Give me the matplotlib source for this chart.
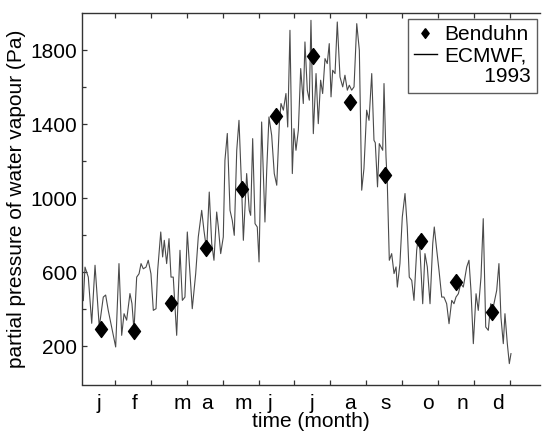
import numpy as np
import matplotlib
matplotlib.use('Agg')
import matplotlib.pyplot as plt

# Benduhn monthly values (day of year, Pa)
benduhn_day = [18.8, 46.5, 77.6, 107.3, 138.0, 167.0, 198.5, 229.6, 259.2, 289.7, 319.7, 350.2]
benduhn_pa = [290, 280, 435, 730, 1050, 1445, 1771, 1519, 1127, 770, 546, 384]

# ECMWF 1993 series (day of year, Pa)
ecmwf_day = [3.6, 5.0, 7.8, 10.7, 13.5, 17.1, 20.5, 22.5, 24.7, 27.6, 31.0, 33.8, 36.1, 38.1,
             40.3, 43.1, 44.8, 46.5, 48.8, 50.8, 52.5, 54.4, 56.7, 58.6, 60.9, 62.9, 65.2, 66.6,
             69.2, 70.8, 72.2, 74.2, 76.2, 77.9, 79.8, 82.7, 85.5, 87.5, 89.7, 91.7, 94.0, 95.9,
             98.8, 101.0, 103.9, 105.8, 108.1, 110.3, 112.4, 114.3, 116.6, 118.0, 120.0, 122.2,
             123.6, 125.6, 127.9, 129.8, 131.5, 133.6, 135.5, 137.8, 139.2, 142.0, 144.2, 145.4,
             147.1, 149.1, 151.0, 152.5, 154.7, 157.5, 159.0, 160.9, 163.2, 165.4, 167.5, 169.7,
             171.1, 173.1, 175.3, 176.8, 178.7, 180.7, 182.1, 183.8, 185.8, 187.8, 190.0, 191.4,
             193.4, 195.1, 196.5, 198.5, 200.8, 202.7, 204.7, 206.4, 208.4, 210.3, 212.0, 213.5,
             214.9, 216.9, 218.8, 221.1, 223.4, 225.3, 227.3, 229.0, 231.0, 233.0, 235.3, 237.5,
             239.5, 241.4, 243.7, 245.7, 248.0, 249.9, 251.0, 252.9, 254.4, 257.3, 258.4, 260.1,
             261.2, 262.9, 264.9, 266.9, 268.6, 269.7, 271.9, 273.9, 276.2, 278.1, 279.8, 281.9,
             283.8, 286.1, 287.5, 288.9, 291.2, 293.1, 295.1, 297.4, 299.7, 301.0, 303.1, 305.0,
             307.3, 309.2, 311.5, 313.5, 315.8, 317.7, 319.4, 321.4, 323.4, 325.6, 328.5, 330.4,
             332.1, 334.1, 336.4, 338.3, 340.6, 342.5, 344.6, 346.8, 348.8, 351.0, 353.9, 355.8,
             357.5, 359.5, 360.9, 362.9, 364.6, 366.0]
ecmwf_pa = [446, 627, 573, 323, 637, 303, 465, 476, 393, 303, 195, 646, 258, 375,
            340, 484, 430, 285, 573, 591, 646, 618, 627, 664, 591, 393, 402, 610,
            817, 682, 772, 646, 781, 573, 573, 258, 718, 447, 465, 817, 591, 402,
            591, 790, 934, 826, 718, 1033, 754, 664, 925, 844, 700, 790,
            1205, 1350, 934, 880, 799, 1259, 1421, 1043, 772, 1133, 934, 907,
            1322, 862, 844, 655, 1412, 871, 1151, 1439, 1340, 1133, 1070, 1403,
            1512, 1476, 1566, 1385, 1908, 1133, 1376, 1259, 1367, 1701, 1512, 1845,
            1584, 1530, 1962, 1349, 1674, 1403, 1638, 1566, 1755, 1728, 1836, 1548,
            1692, 1674, 1953, 1656, 1602, 1665, 1584, 1611, 1584, 1602, 1944, 1800,
            1043, 1160, 1476, 1421, 1674, 1313, 1300, 1061, 1295, 1259, 1620, 1223,
            1079, 664, 700, 592, 628, 519, 646, 898, 1025, 844, 573, 555,
            447, 718, 790, 718, 429, 700, 628, 429, 754, 844, 718, 610,
            465, 465, 429, 321, 447, 429, 465, 483, 537, 519, 628, 664,
            501, 213, 483, 393, 573, 889, 303, 285, 429, 411, 501, 646,
            357, 213, 375, 213, 105, 159]

month_ticks = [30.4, 60.8, 91.3, 121.7, 152.1, 182.5, 212.9, 243.3, 273.8, 304.2, 334.6, 365.0]
month_label_pos = [16.9, 46.7, 87.5, 108.0, 139.5, 161.8, 197.2, 229.6, 259.7, 295.9, 325.0, 354.7]
month_labels = ['j', 'f', 'm', 'a', 'm', 'j', 'j', 'a', 's', 'o', 'n', 'd']

plt.rcParams['font.family'] = ['Liberation Sans', 'DejaVu Sans']
fs = 15

fig = plt.figure(figsize=(5.45, 4.33), dpi=100)
ax = fig.add_axes([82.4 / 545, 1 - 384.5 / 433, (540 - 82.4) / 545, (384.5 - 13.3) / 433])

diamond = [(0, 1), (0.75, 0), (0, -1), (-0.75, 0), (0, 1)]
ax.plot(ecmwf_day, ecmwf_pa, color='#4a4a4a', lw=0.8)
ax.plot(benduhn_day, benduhn_pa, linestyle='none', marker=diamond, ms=11.5,
        color='black', zorder=3)

ax.set_xlim(2.8, 390.6)
ax.set_ylim(-8, 2000)

ax.set_xticks(month_ticks)
ax.set_xticklabels([])
ax.set_xticks(month_label_pos, minor=True)
ax.set_xticklabels(month_labels, minor=True, fontsize=fs)
ax.tick_params(axis='x', which='major', direction='in', length=3.3, width=0.9,
               top=True, color='#333333')
ax.tick_params(axis='x', which='minor', length=0, pad=7)

ax.set_yticks([200, 600, 1000, 1400, 1800])
ax.set_yticks([400, 800, 1200, 1600], minor=True)
ax.tick_params(axis='y', which='major', direction='in', length=3.4, width=0.9,
               labelsize=fs, pad=4, color='#333333')
ax.tick_params(axis='y', which='minor', direction='in', length=2.6, width=0.9,
               color='#333333')

ax.spines['right'].set_visible(False)
for s in ['left', 'bottom', 'top']:
    ax.spines[s].set_color('#333333')
    ax.spines[s].set_linewidth(1.0)

ax.set_xlabel('time (month)', fontsize=fs, labelpad=-1)
ax.set_ylabel('partial pressure of water vapour (Pa)', fontsize=fs, labelpad=3)

h1 = plt.Line2D([], [], linestyle='none', marker=diamond, ms=7, color='black')
h2 = plt.Line2D([], [], color='black', lw=1.0)
h3 = plt.Line2D([], [], linestyle='none')
leg = fig.legend([h1, h2, h3], ['Benduhn', 'ECMWF,', '       1993'],
                 loc='upper right', bbox_to_anchor=(537 / 545, 1 - 19 / 433),
                 fontsize=fs, frameon=True, fancybox=False, borderaxespad=0,
                 handlelength=1.1, handletextpad=0.35, labelspacing=0.1,
                 borderpad=0.3)
leg.get_frame().set_edgecolor('#333333')
leg.get_frame().set_linewidth(1.0)

fig.savefig('out.png', dpi=100)
